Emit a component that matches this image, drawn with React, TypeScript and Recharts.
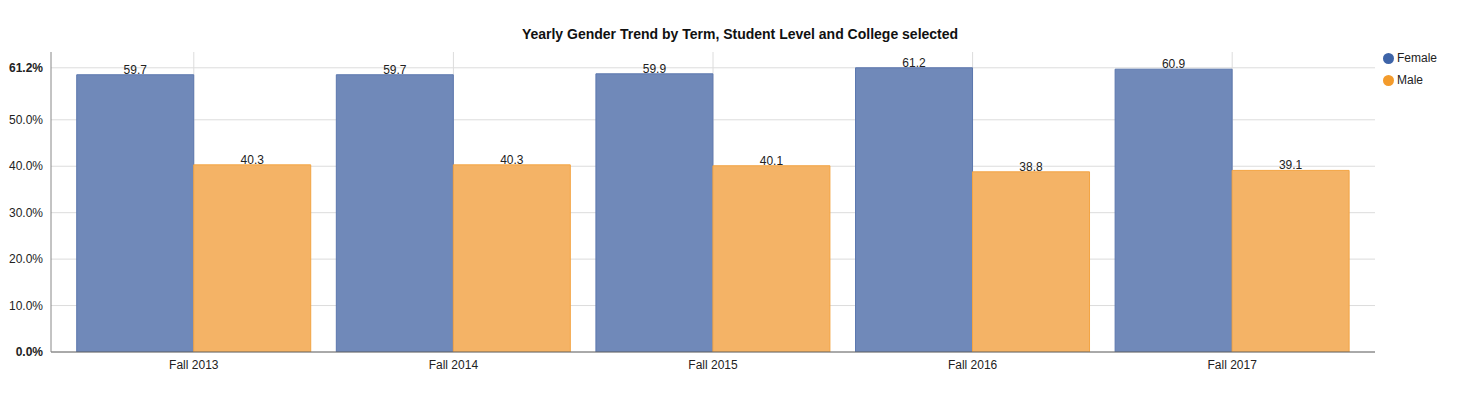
import React from 'react';
import { BarChart, Bar, XAxis, YAxis, CartesianGrid, LabelList } from 'recharts';

const terms = ['Fall 2013', 'Fall 2014', 'Fall 2015', 'Fall 2016', 'Fall 2017'];
const female = [59.7, 59.7, 59.9, 61.2, 60.9];
const male = [40.3, 40.3, 40.1, 38.8, 39.1];
const yTicks = [0, 10, 20, 30, 40, 50, 61.2];

const data = terms.map((t, i) => ({ term: t, Female: female[i], Male: male[i] }));

const FONT = '"Liberation Sans", Arial, Helvetica, sans-serif';

const legendItems = [
  { name: 'Female', color: '#3e64a8' },
  { name: 'Male', color: '#f39b2c' },
];

const YTick = (props: any) => {
  const { x, y, payload } = props;
  const strong = payload.value === 0 || payload.value === 61.2;
  return (
    <text x={x} y={y} dy={4} textAnchor="end" fontSize={12} fill="#222"
      fontWeight={strong ? 'bold' : 'normal'} fontFamily={FONT}>
      {payload.value.toFixed(1)}%
    </text>
  );
};

export default function App() {
  return (
    <div style={{ position: 'absolute', left: 0, top: 0, width: 1480, height: 395, background: '#fff' }}>
      <div style={{ position: 'absolute', top: 26, left: 0, width: 1480, textAlign: 'center',
        fontFamily: FONT, fontWeight: 'bold', fontSize: 14, color: '#111' }}>
        Yearly Gender Trend by Term, Student Level and College selected
      </div>
      <div style={{ position: 'absolute', top: 47, left: 1383, fontFamily: FONT, fontSize: 12, color: '#222' }}>
        {legendItems.map((it) => (
          <div key={it.name} style={{ display: 'flex', alignItems: 'center', height: 22 }}>
            <span style={{ width: 11, height: 11, borderRadius: '50%', background: it.color, display: 'inline-block', marginRight: 3 }} />
            {it.name}
          </div>
        ))}
      </div>
      <BarChart width={1480} height={395} data={data}
        margin={{ top: 52, right: 105, left: 0, bottom: 18 }}
        barCategoryGap="4.9%" barGap={0}>
        <CartesianGrid stroke="#dcdcdc" vertical={true} syncWithTicks />
        <XAxis dataKey="term" padding={{ left: 13, right: 13 }} tickLine={false}
          axisLine={{ stroke: '#666' }} height={25}
          tick={{ fontSize: 12, fill: '#222', fontFamily: FONT }} />
        <YAxis width={51} domain={[0, 64.6]} ticks={yTicks} tickLine={false}
          axisLine={{ stroke: '#888' }} tick={<YTick />} interval={0} allowDataOverflow />
        <Bar dataKey="Female" fill="#7089b9" stroke="#5b77ae" isAnimationActive={false}>
          <LabelList dataKey="Female" position="top" offset={1} fontSize={12} fill="#222" fontFamily={FONT} />
        </Bar>
        <Bar dataKey="Male" fill="#f4b366" stroke="#f3a443" isAnimationActive={false}>
          <LabelList dataKey="Male" position="top" offset={1} fontSize={12} fill="#222" fontFamily={FONT} />
        </Bar>
      </BarChart>
    </div>
  );
}
